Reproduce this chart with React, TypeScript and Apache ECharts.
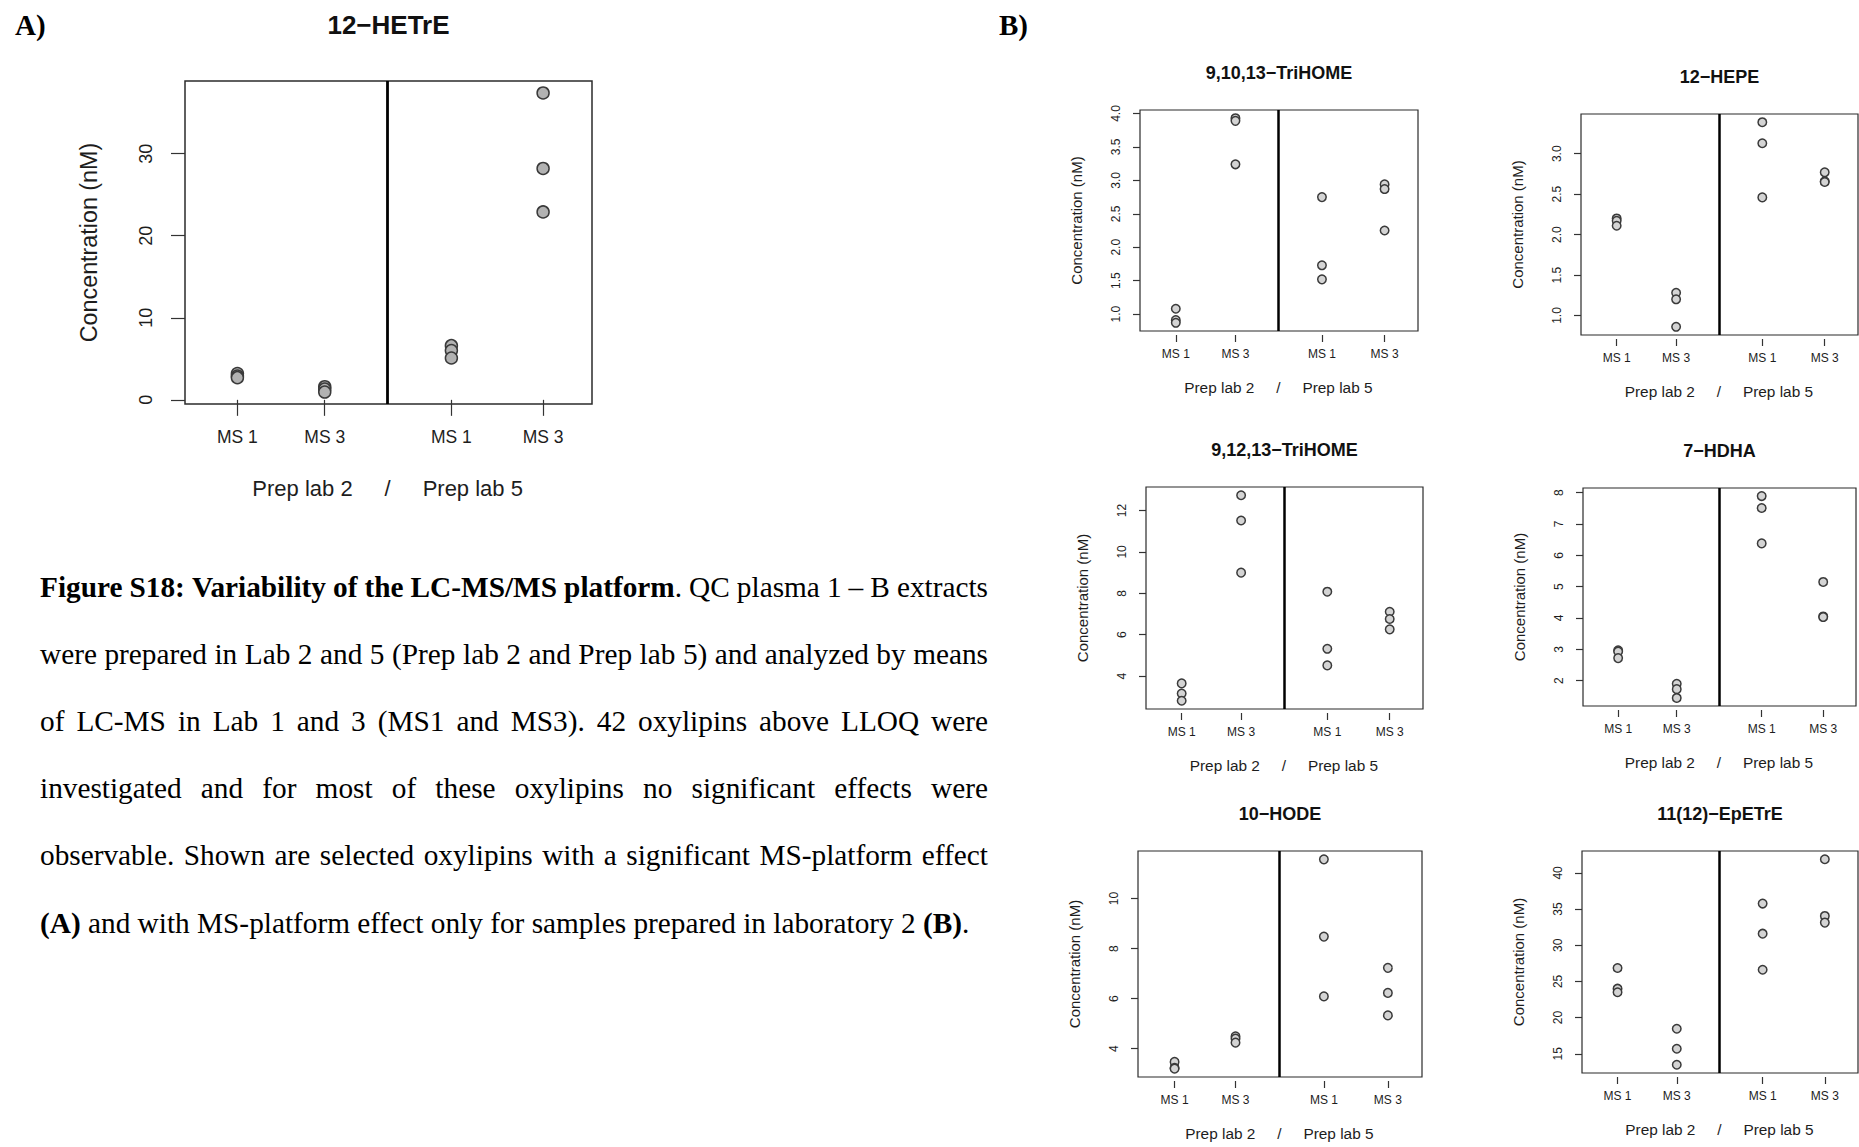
import React, { useEffect, useRef } from "react";
import * as echarts from "echarts";

const W = 1859;
const H = 1147;

// Groups on every x axis: MS platform within each preparation lab
const groupLabels = ["MS 1", "MS 3", "MS 1", "MS 3"];
const labLabels = ["Prep lab 2", "/", "Prep lab 5"];

// Concentrations (nM), three replicates per group:
// [Prep lab 2 / MS 1, Prep lab 2 / MS 3, Prep lab 5 / MS 1, Prep lab 5 / MS 3]
const hetre12 = [[3.2, 2.9, 2.7], [1.6, 1.3, 0.95], [6.6, 6.0, 5.1], [37.4, 28.2, 22.9]];
const trihome91013 = [[1.08, 0.91, 0.87], [3.93, 3.89, 3.24], [2.75, 1.73, 1.52], [2.94, 2.87, 2.25]];
const hepe12 = [[2.2, 2.17, 2.11], [1.28, 1.2, 0.86], [3.39, 3.13, 2.46], [2.77, 2.66, 2.65]];
const trihome91213 = [[3.65, 3.16, 2.81], [12.74, 11.52, 9.0], [8.08, 5.32, 4.52], [7.11, 6.76, 6.26]];
const hdha7 = [[2.97, 2.93, 2.72], [1.9, 1.73, 1.45], [7.89, 7.51, 6.38], [5.15, 4.05, 4.03]];
const hode10 = [[3.47, 3.23, 3.2], [4.49, 4.4, 4.24], [11.57, 8.48, 6.09], [7.23, 6.23, 5.33]];
const epetre1112 = [[26.85, 24.0, 23.5], [18.46, 15.69, 13.48], [35.76, 31.6, 26.62], [41.89, 34.05, 33.13]];

// y-axis tick labels
const hetre12Ticks = [0, 10, 20, 30];
const trihome91013Ticks = [1.0, 1.5, 2.0, 2.5, 3.0, 3.5, 4.0];
const hepe12Ticks = [1.0, 1.5, 2.0, 2.5, 3.0];
const trihome91213Ticks = [4, 6, 8, 10, 12];
const hdha7Ticks = [2, 3, 4, 5, 6, 7, 8];
const hode10Ticks = [4, 6, 8, 10];
const epetre1112Ticks = [15, 20, 25, 30, 35, 40];

const yAxisTitle = "Concentration (nM)";

type Run = { t: string; b?: boolean };
const caption: Run[][] = [
  [{ t: "Figure S18: Variability of the LC-MS/MS platform", b: true }, { t: ". QC plasma 1 – B extracts" }],
  [{ t: "were prepared in Lab 2 and 5 (Prep lab 2 and Prep lab 5) and analyzed by means" }],
  [{ t: "of LC-MS in Lab 1 and 3 (MS1 and MS3). 42 oxylipins above LLOQ were" }],
  [{ t: "investigated and for most of these oxylipins no significant effects were" }],
  [{ t: "observable. Shown are selected oxylipins with a significant MS-platform effect" }],
  [{ t: "(A)", b: true }, { t: " and with MS-platform effect only for samples prepared in laboratory 2 " }, { t: "(B)", b: true }, { t: "." }],
];

// ---- layout ----
const SANS = '"Liberation Sans", Arial, Helvetica, sans-serif';
const SERIF = '"Liberation Serif", "Times New Roman", Times, serif';
const INK = "#1d1d1d";

const GROUP_POS = [1, 2, 3.45, 4.5];
const DIVIDER_POS = 2.72;
const X_MIN = 0.4;
const X_MAX = 5.06;

const bigStyle = {
  titleSize: 26, titleGap: 56, yTitleSize: 23.3, yTitleGap: 96,
  yTickFont: 18, xTickFont: 17.5, yTickLen: 14, yLabelMargin: 30,
  xOffset: 0, xTickLen: 16, xLabelMargin: 24,
  groupFont: 22, groupGap: 84, groupSide: 35,
  symbolSize: 12, border: 1.5, divider: 2.8,
  fill: "#b2b2b2",
};
const smallStyle = {
  titleSize: 18, titleGap: 37, yTitleSize: 15, yTitleGap: 64,
  yTickFont: 12, xTickFont: 12, yTickLen: 7, yLabelMargin: 18,
  xOffset: 4, xTickLen: 7, xLabelMargin: 13,
  groupFont: 15.4, groupGap: 56, groupSide: 24,
  symbolSize: 8.5, border: 1.2, divider: 2.5,
  fill: "#d4d4d4",
};

type Panel = {
  title: string;
  values: number[][];
  ticks: number[];
  decimals: number;
  box: [number, number, number, number];
  big?: boolean;
};

const panels: Panel[] = [
  { title: "12−HETrE", values: hetre12, ticks: hetre12Ticks, decimals: 0, box: [185, 81, 407, 323], big: true },
  { title: "9,10,13−TriHOME", values: trihome91013, ticks: trihome91013Ticks, decimals: 1, box: [1140, 110, 278, 221] },
  { title: "12−HEPE", values: hepe12, ticks: hepe12Ticks, decimals: 1, box: [1581, 114, 277, 221] },
  { title: "9,12,13−TriHOME", values: trihome91213, ticks: trihome91213Ticks, decimals: 0, box: [1146, 487, 277, 222] },
  { title: "7−HDHA", values: hdha7, ticks: hdha7Ticks, decimals: 0, box: [1583, 488, 273, 218] },
  { title: "10−HODE", values: hode10, ticks: hode10Ticks, decimals: 0, box: [1138, 851, 284, 226] },
  { title: "11(12)−EpETrE", values: epetre1112, ticks: epetre1112Ticks, decimals: 0, box: [1582, 851, 276, 222] },
];

const CAP_SIZE = 29.3;
const CAP_LEFT = 40;
const CAP_RIGHT = 988;
const CAP_TOP = 587;
const CAP_LINE = 67.1;

function textEl(text: string, x: number, y: number, opts: any = {}) {
  return {
    type: "text",
    x,
    y,
    rotation: opts.rotation || 0,
    silent: true,
    style: {
      text,
      fontFamily: opts.fontFamily || SANS,
      fontSize: opts.fontSize || 12,
      fontWeight: opts.fontWeight || "normal",
      fill: opts.fill || INK,
      align: opts.align || "center",
      verticalAlign: opts.verticalAlign || "middle",
    },
  };
}

function captionGraphics() {
  const ctx = document.createElement("canvas").getContext("2d")!;
  const fontOf = (b?: boolean) => `${b ? "bold " : ""}${CAP_SIZE}px ${SERIF}`;
  const measure = (t: string, b?: boolean) => {
    ctx.font = fontOf(b);
    return ctx.measureText(t).width;
  };
  const out: any[] = [];
  caption.forEach((runs, li) => {
    const words: Run[][] = [];
    let cur: Run[] = [];
    runs.forEach((r) => {
      r.t.split(" ").forEach((p, pi) => {
        if (pi > 0) {
          if (cur.length) words.push(cur);
          cur = [];
        }
        if (p) cur.push({ t: p, b: r.b });
      });
    });
    if (cur.length) words.push(cur);
    const widths = words.map((w) => w.reduce((s, r) => s + measure(r.t, r.b), 0));
    const total = widths.reduce((a, b) => a + b, 0);
    const last = li === caption.length - 1;
    const gap = last ? measure(" ") : (CAP_RIGHT - CAP_LEFT - total) / (words.length - 1);
    let x = CAP_LEFT;
    const y = CAP_TOP + li * CAP_LINE;
    words.forEach((w) => {
      w.forEach((r) => {
        out.push(
          textEl(r.t, x, y, {
            fontFamily: SERIF,
            fontSize: CAP_SIZE,
            fontWeight: r.b ? "bold" : "normal",
            fill: "#000",
            align: "left",
          })
        );
        x += measure(r.t, r.b);
      });
      x += gap;
    });
  });
  return out;
}

function buildOption() {
  const grid: any[] = [];
  const xAxis: any[] = [];
  const yAxis: any[] = [];
  const series: any[] = [];
  const graphic: any[] = [];

  panels.forEach((p, i) => {
    const s = p.big ? bigStyle : smallStyle;
    const [left, top, width, height] = p.box;
    const flat = p.values.flat();
    const lo = Math.min(...flat);
    const hi = Math.max(...flat);
    const pad = (hi - lo) * 0.04;

    grid.push({
      left,
      top,
      width,
      height,
      show: true,
      borderColor: "#2b2b2b",
      borderWidth: s.border,
      backgroundColor: "transparent",
      containLabel: false,
      outerBoundsMode: "none",
    });

    xAxis.push({
      type: "value",
      gridIndex: i,
      min: X_MIN,
      max: X_MAX,
      position: "bottom",
      offset: s.xOffset,
      axisLine: { show: false },
      splitLine: { show: false },
      axisTick: {
        show: true,
        customValues: GROUP_POS,
        length: s.xTickLen,
        lineStyle: { color: "#333", width: 1.2 },
      },
      axisLabel: {
        customValues: GROUP_POS,
        margin: s.xLabelMargin,
        fontSize: s.xTickFont,
        fontFamily: SANS,
        color: INK,
        formatter: (v: number) => {
          let best = 0;
          GROUP_POS.forEach((g, gi) => {
            if (Math.abs(g - v) < Math.abs(GROUP_POS[best] - v)) best = gi;
          });
          return groupLabels[best];
        },
      },
    });

    yAxis.push({
      type: "value",
      gridIndex: i,
      min: lo - pad,
      max: hi + pad,
      axisLine: { show: false },
      splitLine: { show: false },
      axisTick: {
        show: true,
        customValues: p.ticks,
        length: s.yTickLen,
        lineStyle: { color: "#333", width: 1.2 },
      },
      axisLabel: {
        customValues: p.ticks,
        rotate: 90,
        margin: s.yLabelMargin,
        fontSize: s.yTickFont,
        fontFamily: SANS,
        color: INK,
        formatter: (v: number) => v.toFixed(p.decimals),
      },
    });

    series.push({
      type: "scatter",
      xAxisIndex: i,
      yAxisIndex: i,
      symbol: "circle",
      symbolSize: s.symbolSize,
      silent: true,
      z: 3,
      itemStyle: { color: s.fill, borderColor: "#3a3a3a", borderWidth: 1.5, opacity: 1 },
      data: p.values.flatMap((g, gi) => g.map((v) => [GROUP_POS[gi], v])),
      markLine: {
        silent: true,
        symbol: ["none", "none"],
        label: { show: false },
        lineStyle: { color: "#000", width: s.divider, type: "solid" },
        data: [{ xAxis: DIVIDER_POS }],
      },
    });

    const divPx = left + ((DIVIDER_POS - X_MIN) / (X_MAX - X_MIN)) * width;
    const gy = top + height + s.groupGap;
    graphic.push(textEl(p.title, left + width / 2, top - s.titleGap, { fontSize: s.titleSize, fontWeight: "bold", fill: "#111" }));
    graphic.push(textEl(yAxisTitle, left - s.yTitleGap, top + height / 2, { fontSize: s.yTitleSize, rotation: Math.PI / 2 }));
    graphic.push(textEl(labLabels[0], divPx - s.groupSide, gy, { fontSize: s.groupFont, align: "right" }));
    graphic.push(textEl(labLabels[1], divPx, gy, { fontSize: s.groupFont }));
    graphic.push(textEl(labLabels[2], divPx + s.groupSide, gy, { fontSize: s.groupFont, align: "left" }));
  });

  graphic.push(textEl("A)", 15, 25, { fontFamily: SERIF, fontSize: 29, fontWeight: "bold", fill: "#000", align: "left" }));
  graphic.push(textEl("B)", 999, 25, { fontFamily: SERIF, fontSize: 29, fontWeight: "bold", fill: "#000", align: "left" }));
  graphic.push(...captionGraphics());

  return {
    animation: false,
    backgroundColor: "#ffffff",
    grid,
    xAxis,
    yAxis,
    series,
    graphic,
  };
}

export default function App() {
  const ref = useRef<HTMLDivElement>(null);
  useEffect(() => {
    document.body.style.margin = "0";
    const chart = echarts.init(ref.current!, null, { renderer: "svg", width: W, height: H });
    chart.setOption(buildOption() as any);
    return () => chart.dispose();
  }, []);
  return <div ref={ref} style={{ width: W, height: H, background: "#fff" }} />;
}
